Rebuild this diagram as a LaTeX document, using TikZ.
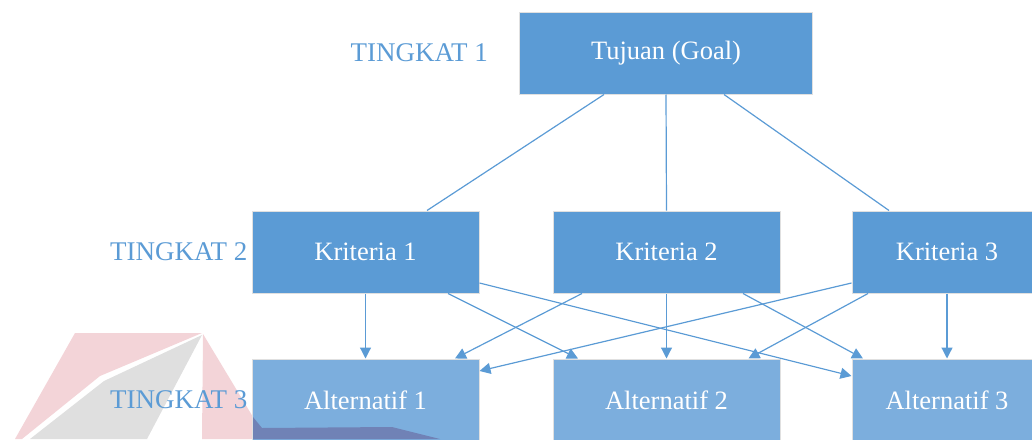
\documentclass[tikz,border=0pt]{standalone}
\usepackage{fontspec}
\setmainfont{Liberation Serif}
\usetikzlibrary{positioning,arrows.meta}
\definecolor{boxblue}{HTML}{5B9BD5}
\definecolor{altblue}{HTML}{7CAEDD}
\definecolor{wmpink}{HTML}{F3D4D8}
\definecolor{wmgray}{HTML}{DFDFDF}
\definecolor{wmblue}{HTML}{7082B6}
\tikzset{>={Triangle[length=11pt,width=11pt]}}
\tikzset{
  goalbox/.style = {rectangle, fill=boxblue, draw=black!12, line width=1pt,
    text=white, minimum width=227pt, minimum height=82pt, inner sep=0pt,
    font=\fontsize{26.5}{30}\selectfont},
  altbox/.style = {goalbox, fill=altblue},
  tingkat/.style = {text=boxblue, inner sep=0pt, font=\fontsize{27}{30}\selectfont},
  link/.style = {boxblue, line width=1.2pt}
}

\begin{document}
\begin{tikzpicture}[x=1pt,y=-1pt]
  \clip (0,0) rectangle (1032,439);
  % watermark in the background
  \fill[wmpink] (75,333) -- (202,333) -- (100,376) -- (22,439) -- (15,439) -- cycle;
  \fill[wmgray] (202,335) -- (104,381) -- (30,439) -- (147,439) -- cycle;
  \fill[wmpink] (203,334) -- (253,417) -- (253,439) -- (202,439) -- cycle;

  % level 1
  \node[goalbox, minimum width=293pt] (goal) at (666,53) {Tujuan (Goal)};
  \node[tingkat, left=31pt of goal] (t1) {TINGKAT 1};

  % level 2
  \node[goalbox] (k1) at (365.5,252) {Kriteria 1};
  \node[goalbox] (k2) at (666.5,252) {Kriteria 2};
  \node[goalbox, minimum width=190pt] (k3) at (947,252) {Kriteria 3};
  \node[tingkat, left=4pt of k1] (t2) {TINGKAT 2};

  % level 3
  \node[altbox] (a1) at (365.5,400) {Alternatif 1};
  \node[altbox] (a2) at (666.5,400) {Alternatif 2};
  \node[altbox, minimum width=190pt] (a3) at (947,400) {Alternatif 3};
  \node[tingkat, left=4pt of a1] (t3) {TINGKAT 3};

  \fill[wmblue] (253,417) -- (262,428) -- (392,427) -- (440,439) -- (253,439) -- cycle;

  % goal to criteria
  \draw[link] ([xshift=-62pt]goal.south) -- ([xshift=61.5pt]k1.north);
  \draw[link] (goal.south) -- (k2.north);
  \draw[link] ([xshift=58pt]goal.south) -- ([xshift=-58pt]k3.north);

  % criteria to alternatives
  \draw[link,->] (k1.south) -- (a1.north);
  \draw[link,->] ([xshift=82.5pt]k1.south) -- ([xshift=-88.5pt]a2.north);
  \draw[link,->] ([yshift=-31pt]k1.east) -- ([yshift=24pt]a3.west);
  \draw[link,->] ([xshift=-84.5pt]k2.south) -- ([xshift=89.5pt]a1.north);
  \draw[link,->] (k2.south) -- (a2.north);
  \draw[link,->] ([xshift=76.5pt]k2.south) -- ([xshift=-84pt]a3.north);
  \draw[link,->] ([yshift=-31pt]k3.west) -- ([yshift=29pt]a1.east);
  \draw[link,->] ([xshift=-79pt]k3.south) -- ([xshift=82pt]a2.north);
  \draw[link,->] (k3.south) -- (a3.north);
\end{tikzpicture}
\end{document}
